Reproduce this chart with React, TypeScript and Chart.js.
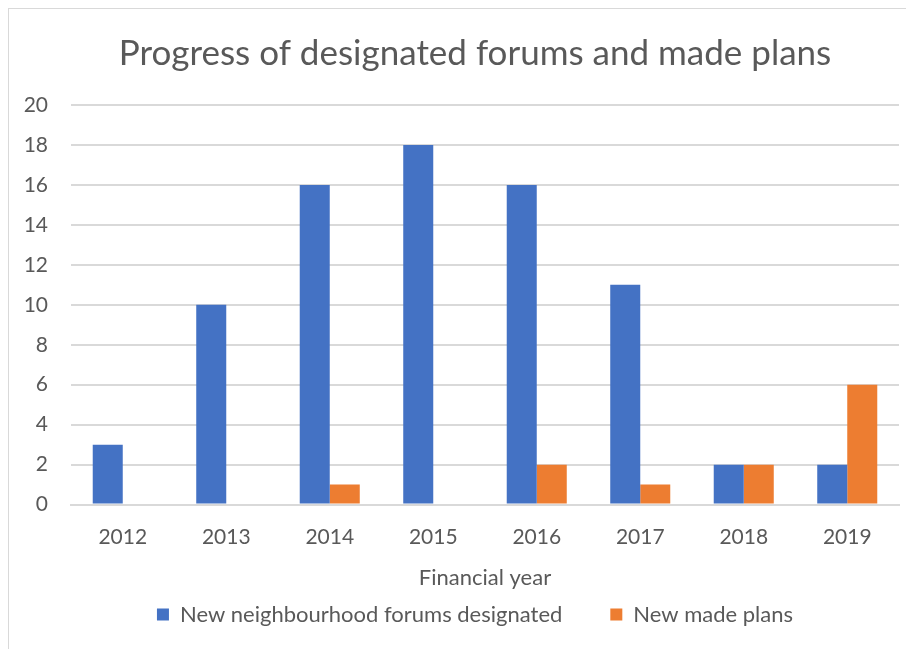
import React, { useEffect, useRef } from "react";
import { Chart, registerables } from "chart.js";

Chart.register(...registerables);

const years = ["2012", "2013", "2014", "2015", "2016", "2017", "2018", "2019"];
const forumsDesignated = [3, 10, 16, 18, 16, 11, 2, 2];
const madePlans = [0, 0, 1, 0, 2, 1, 2, 6];
const titleText = "Progress of designated forums and made plans";
const xTitle = "Financial year";
const seriesNames = ["New neighbourhood forums designated", "New made plans"];

const FONT = "Lato, 'Open Sans', sans-serif";
const TXT = "#595959";

export default function App() {
  const ref = useRef<HTMLCanvasElement | null>(null);
  useEffect(() => {
    if (!ref.current) return;
    const chart = new Chart(ref.current, {
      type: "bar",
      data: {
        labels: years,
        datasets: [
          {
            label: seriesNames[0],
            data: forumsDesignated,
            backgroundColor: "#4472c4",
            categoryPercentage: 0.58,
            barPercentage: 1,
          },
          {
            label: seriesNames[1],
            data: madePlans,
            backgroundColor: "#ed7d31",
            categoryPercentage: 0.58,
            barPercentage: 1,
          },
        ],
      },
      options: {
        animation: false,
        responsive: false,
        maintainAspectRatio: false,
        layout: { padding: { left: 15, right: -12, top: 14, bottom: 13.4 } },
        plugins: {
          title: {
            display: true,
            text: titleText,
            color: TXT,
            font: { family: FONT, size: 35, weight: "400" },
            padding: { top: 10, bottom: 30 },
          },
          legend: {
            position: "bottom",
            labels: {
              color: TXT,
              font: { family: FONT, size: 22 },
              boxWidth: 12,
              boxHeight: 12,
              padding: 48,
            },
          },
          tooltip: { enabled: false },
        },
        scales: {
          x: {
            grid: { display: false, drawTicks: false },
            border: { display: true, color: "#d9d9d9", width: 2 },
            ticks: { color: TXT, font: { family: FONT, size: 21 }, padding: 20 },
            title: {
              display: true,
              text: xTitle,
              color: TXT,
              font: { family: FONT, size: 22 },
              padding: { top: -5.4, bottom: -35.2 },
            },
          },
          y: {
            min: 0,
            max: 20,
            afterFit: (scale: any) => {
              scale.width = 47;
            },
            ticks: { stepSize: 2, color: TXT, font: { family: FONT, size: 21 }, padding: 23 },
            grid: { color: "#d9d9d9", lineWidth: 2, drawTicks: false },
            border: { display: false },
          },
          yRight: {
            position: "right",
            display: true,
            afterFit: (scale: any) => {
              scale.width = 27;
            },
            ticks: { display: false },
            grid: { display: false, drawTicks: false },
            border: { display: false },
          },
        },
      },
    });
    return () => chart.destroy();
  }, []);
  return (
    <div
      style={{
        width: 905,
        height: 640,
        borderLeft: "1px solid #d9d9d9",
        borderTop: "1px solid #d9d9d9",
        background: "#fff",
      }}
    >
      <canvas ref={ref} width={905} height={640} style={{ display: "block" }} />
    </div>
  );
}
